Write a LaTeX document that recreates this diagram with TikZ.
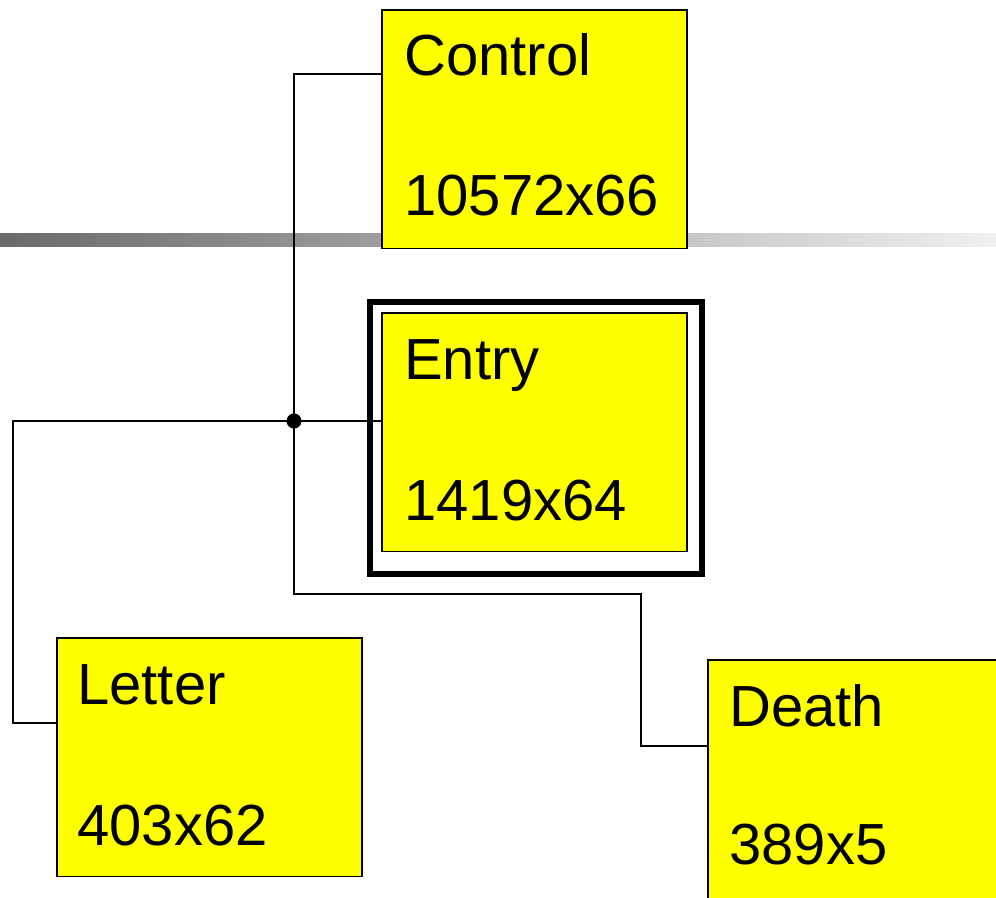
\documentclass[tikz,border=0pt]{standalone}
\usepackage{fontspec}
\setmainfont{Liberation Sans}
\begin{document}
\begin{tikzpicture}[x=0.75pt,y=-0.75pt,
  box/.style={draw=black, line width=1.3pt, fill=boxyellow, anchor=north west,
    inner sep=0pt, minimum width=305*0.75pt, minimum height=238.5*0.75pt},
  lbl/.style={anchor=base west, inner sep=0pt, text=black,
    font=\fontsize{43.5}{52}\selectfont},
  wire/.style={draw=black, line width=1.5pt, line join=miter},
  ]
\definecolor{boxyellow}{RGB}{255,255,0}
\definecolor{barleft}{RGB}{106,106,106}
\definecolor{barright}{RGB}{240,240,240}
\useasboundingbox (0,0) rectangle (996,897);
\clip (0,0) rectangle (996,897);
\fill[white] (0,0) rectangle (996,897);

% grey rule across the page
\shade[left color=barleft, right color=barright] (0,233) rectangle (996,246);

% wiring points
\coordinate (j) at (294,421);
\coordinate (trunk) at (294,594);
\coordinate (drop) at (641,746);
\coordinate (lcorner) at (13,723);

% boxes
\node[box] (ctrl) at (381,9) {};
\node[box] (entry) at (381,312) {};
\node[box] (letter) at (56,637) {};
\node[box] (death) at (707,659) {};
\node[draw=black, line width=4.5pt, anchor=north west, inner sep=0pt,
  minimum width=332*0.75pt, minimum height=272*0.75pt] (frame) at (367,299) {};

% connectors
\draw[wire] ([shift={(0,65)}]ctrl.north west) -| (trunk) -| (drop)
  -- ([shift={(0,87)}]death.north west);
\draw[wire] (j) -- ([shift={(0,109)}]entry.north west);
\draw[wire] (j) -| (lcorner) -- ([shift={(0,86)}]letter.north west);
\fill[black] (j) circle[radius=7.5];

% labels
\node[lbl] (ctrl-name) at ([shift={(23,66)}]ctrl.north west) {Control};
\node[lbl] (ctrl-size) at ([shift={(23,206)}]ctrl.north west) {10572x66};
\node[lbl] (entry-name) at ([shift={(23,67)}]entry.north west) {Entry};
\node[lbl] (entry-size) at ([shift={(23,208)}]entry.north west) {1419x64};
\node[lbl] (letter-name) at ([shift={(21,67)}]letter.north west) {Letter};
\node[lbl] (letter-size) at ([shift={(21,208)}]letter.north west) {403x62};
\node[lbl] (death-name) at ([shift={(22,67)}]death.north west) {Death};
\node[lbl] (death-size) at ([shift={(22,205)}]death.north west) {389x5};
\end{tikzpicture}
\end{document}
